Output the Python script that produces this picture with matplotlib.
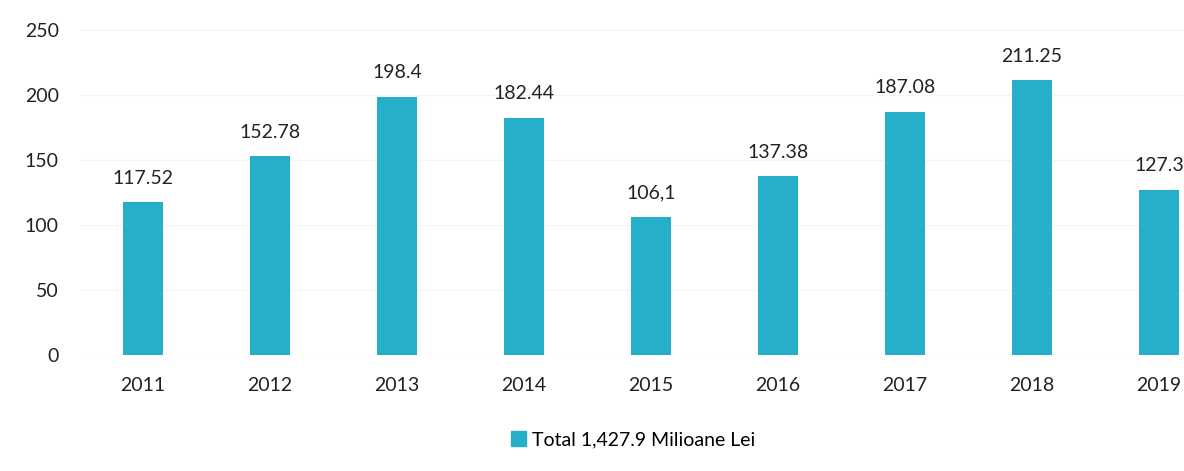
import numpy as np
import matplotlib.pyplot as plt

# values per year (milioane lei)
years = ["2011", "2012", "2013", "2014", "2015", "2016", "2017", "2018", "2019"]
values = [117.52, 152.78, 198.4, 182.44, 106.1, 137.38, 187.08, 211.25, 127.3]
labels = ["117.52", "152.78", "198.4", "182.44", "106,1", "137.38", "187.08", "211.25", "127.3"]
yticks = [0, 50, 100, 150, 200, 250]

plt.rcParams['font.family'] = ['Lato', 'DejaVu Sans']

bar_color = "#25AFC8"

fig = plt.figure(figsize=(11.84, 4.71), dpi=100)
# axes runs past the right edge, so the last label is cut like in the scan
ax = fig.add_axes([79.5 / 1184, 1 - 355 / 471, 1143 / 1184, 325 / 471])

x = np.arange(len(years))
ax.bar(x, values, width=0.32, color=bar_color, zorder=2)

for xi, v, lab in zip(x, values, labels):
    ax.text(xi, v + 12, lab, ha="center", va="bottom", fontsize=14, color="#222222")

ax.set_xlim(-0.5, len(years) - 0.5)
ax.set_ylim(0, 250)
ax.set_yticks(yticks)
ax.set_xticks(x)
ax.set_xticklabels(years)
ax.grid(axis="y", color="#f4f4f4", linewidth=0.8, zorder=0)
ax.tick_params(axis="y", length=0, pad=15, labelsize=14, colors="#222222")
ax.tick_params(axis="x", length=0, pad=16, labelsize=14, colors="#222222")
for s in ax.spines.values():
    s.set_visible(False)

# legend
handle = plt.Rectangle((0, 0), 1, 1, color=bar_color)
fig.legend([handle], ["Total 1,427.9 Milioane Lei"], loc="center",
           bbox_to_anchor=(633 / 1184, 1 - 440 / 471), frameon=False,
           fontsize=14, handlelength=0.8, handleheight=0.8, handletextpad=0.3)

plt.savefig("out.png", dpi=100)
